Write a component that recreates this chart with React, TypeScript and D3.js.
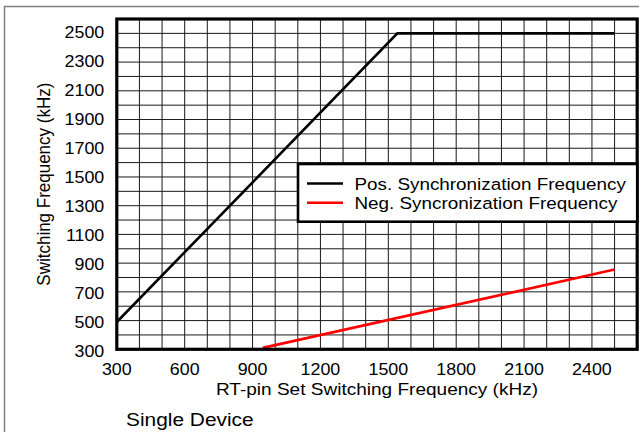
import React from "react";
import * as d3 from "d3";

const xTicks = [300, 600, 900, 1200, 1500, 1800, 2100, 2400];
const yTicks = [300, 500, 700, 900, 1100, 1300, 1500, 1700, 1900, 2100, 2300, 2500];
const posSyncX = [300, 1540, 2500];
const posSyncY = [490, 2500, 2500];
const negSyncX = [945, 2500];
const negSyncY = [310, 855];
const legendLabels = ["Pos. Synchronization Frequency", "Neg. Syncronization Frequency"];
const legendColors = ["#000000", "#ff0000"];
const xTitle = "RT-pin Set Switching Frequency (kHz)";
const yTitle = "Switching Frequency (kHz)";
const caption = "Single Device";

const W = 639;
const H = 432;
const FONT = "'Liberation Sans', Arial, sans-serif";

export default function App() {
  const x0 = 116.8, x1 = 637.2, y0 = 19, y1 = 349.3;
  const x = d3.scaleLinear().domain([300, 2600]).range([x0, x1]);
  const y = d3.scaleLinear().domain([300, 2600]).range([y1, y0]);
  const yLab = d3.scaleLinear().domain([300, 2500]).range([350.8, 32.2]);
  const gridX = d3.range(400, 2600, 100);
  const gridY = d3.range(400, 2600, 100);
  const line = d3
    .line<[number, number]>()
    .x((d) => x(d[0]))
    .y((d) => y(d[1]));
  const pos = posSyncX.map((v, i) => [v, posSyncY[i]] as [number, number]);
  const neg = negSyncX.map((v, i) => [v, negSyncY[i]] as [number, number]);

  const txt = (
    tx: number,
    ty: number,
    s: string,
    anchor: string,
    sx: number,
    key?: any,
    rot = false,
    fs = 17
  ) => (
    <text
      key={key}
      transform={`translate(${tx},${ty}) scale(${sx},1)${rot ? " rotate(-90)" : ""}`}
      textAnchor={anchor}
      fontFamily={FONT}
      fontSize={fs}
      fill="#000"
    >
      {s}
    </text>
  );

  const lgX = 298, lgY = 164, lgW = x1 - 298, lgH = 57.7;

  return (
    <svg
      width={W}
      height={H}
      style={{ position: "absolute", left: 0, top: 0, background: "#fff" }}
    >
      <rect x={0} y={0} width={W} height={H} fill="#fff" />
      <rect x={4.5} y={6.5} width={800} height={600} fill="none" stroke="#808080" strokeWidth={1.5} />
      <g>
        {gridX.map((v) => (
          <line key={"gx" + v} x1={x(v)} x2={x(v)} y1={y0} y2={y1} stroke="#1a1a1a" strokeWidth={1} />
        ))}
        {gridY.map((v) => (
          <line key={"gy" + v} x1={x0} x2={x1} y1={y(v)} y2={y(v)} stroke="#1a1a1a" strokeWidth={1} />
        ))}
      </g>
      <path d={line(pos) || ""} fill="none" stroke="#000" strokeWidth={2.6} />
      <path d={line(neg) || ""} fill="none" stroke="#ff0000" strokeWidth={2.6} />
      <rect x={x0} y={y0} width={x1 - x0} height={y1 - y0} fill="none" stroke="#000" strokeWidth={3.2} />
      <rect x={lgX} y={lgY} width={lgW} height={lgH} fill="#fff" stroke="#000" strokeWidth={2.6} />
      {legendLabels.map((l, i) => {
        const ly = 183.5 + i * 19.2;
        return (
          <g key={"lg" + i}>
            <line x1={307} x2={343} y1={ly} y2={ly} stroke={legendColors[i]} strokeWidth={2.6} />
            {txt(354.5, ly + 6.2, l, "start", 1.11)}
          </g>
        );
      })}
      {yTicks.map((v) => txt(104.3, yLab(v) + 6.1, String(v), "end", 1.05, "yt" + v))}
      {xTicks.map((v) => txt(x(v), 375.3, String(v), "middle", 1.05, "xt" + v))}
      {txt((x0 + x1) / 2, 395, xTitle, "middle", 1.12)}
      {txt(49.5, (y0 + y1) / 2, yTitle, "middle", 1.1, "ytl", true)}
      {txt(126, 426, caption, "start", 1.18, "cap", false, 17.7)}
    </svg>
  );
}
